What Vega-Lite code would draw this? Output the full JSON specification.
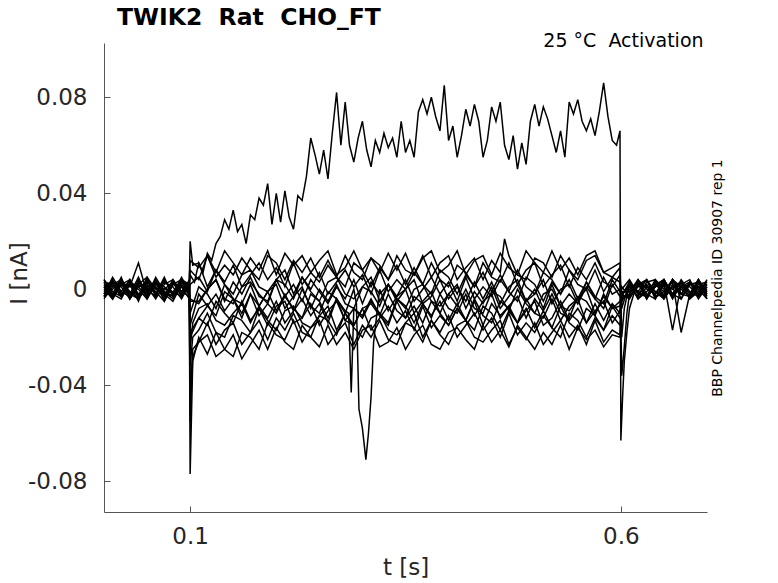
{
"$schema": "https://vega.github.io/schema/vega-lite/v6.json",
"autosize": {"type": "none"},
"width": 603,
"height": 469,
"padding": {"left": 104, "top": 43, "right": 71, "bottom": 71},
"background": "white",
"title": {"text": "TWIK2\u00a0 Rat\u00a0 CHO_FT", "anchor": "start", "frame": "group", "dx": 13, "dy": 24, "offset": 7, "baseline": "alphabetic", "fontSize": 23.5, "fontWeight": "bold", "font": "DejaVu Sans", "color": "black"},
"config": {
  "view": {"stroke": null},
  "locale": {"number": {"decimal": ".", "thousands": ",", "grouping": [3], "currency": ["$", ""], "minus": "-"}},
  "axis": {"grid": false, "domainColor": "#555555", "tickColor": "#555555", "labelColor": "#262626", "titleColor": "#262626", "labelFont": "DejaVu Sans", "titleFont": "DejaVu Sans", "labelFontSize": 23, "titleFontSize": 23, "titleFontWeight": "normal"}
},
"layer": [
{
"data": {"values": [
{"s":1,"t":0,"i":0.002},{"s":1,"t":0.01,"i":-0.003},{"s":1,"t":0.02,"i":0.004},{"s":1,"t":0.03,"i":-0.001},{"s":1,"t":0.04,"i":-0.004},{"s":1,"t":0.05,"i":0.003},{"s":1,"t":0.06,"i":0.001},{"s":1,"t":0.07,"i":-0.003},{"s":1,"t":0.08,"i":0.004},{"s":1,"t":0.09,"i":-0.002},{"s":1,"t":0.099,"i":0.001},
{"s":1,"t":0.1,"i":-0.077},{"s":1,"t":0.103,"i":-0.03},
{"s":1,"t":0.11,"i":-0.02},{"s":1,"t":0.12,"i":-0.027},{"s":1,"t":0.13,"i":-0.018},{"s":1,"t":0.14,"i":-0.025},{"s":1,"t":0.15,"i":-0.028},{"s":1,"t":0.16,"i":-0.018},{"s":1,"t":0.17,"i":-0.02},{"s":1,"t":0.18,"i":-0.025},{"s":1,"t":0.19,"i":-0.014},{"s":1,"t":0.2,"i":-0.019},
{"s":1,"t":0.21,"i":-0.021},{"s":1,"t":0.22,"i":-0.013},{"s":1,"t":0.23,"i":-0.022},{"s":1,"t":0.24,"i":-0.016},{"s":1,"t":0.25,"i":-0.013},{"s":1,"t":0.26,"i":-0.023},{"s":1,"t":0.27,"i":-0.018},{"s":1,"t":0.28,"i":-0.014},{"s":1,"t":0.29,"i":-0.023},{"s":1,"t":0.3,"i":-0.015},
{"s":1,"t":0.31,"i":-0.02},{"s":1,"t":0.32,"i":-0.013},{"s":1,"t":0.33,"i":-0.021},{"s":1,"t":0.34,"i":-0.023},{"s":1,"t":0.35,"i":-0.014},{"s":1,"t":0.36,"i":-0.016},{"s":1,"t":0.37,"i":-0.022},{"s":1,"t":0.38,"i":-0.013},{"s":1,"t":0.39,"i":-0.019},{"s":1,"t":0.4,"i":-0.023},
{"s":1,"t":0.41,"i":-0.015},{"s":1,"t":0.42,"i":-0.013},{"s":1,"t":0.43,"i":-0.02},{"s":1,"t":0.44,"i":-0.022},{"s":1,"t":0.45,"i":-0.017},{"s":1,"t":0.46,"i":-0.013},{"s":1,"t":0.47,"i":-0.023},{"s":1,"t":0.48,"i":-0.016},{"s":1,"t":0.49,"i":-0.021},{"s":1,"t":0.5,"i":-0.014},
{"s":1,"t":0.51,"i":-0.023},{"s":1,"t":0.52,"i":-0.018},{"s":1,"t":0.53,"i":-0.013},{"s":1,"t":0.54,"i":-0.02},{"s":1,"t":0.55,"i":-0.015},{"s":1,"t":0.56,"i":-0.023},{"s":1,"t":0.57,"i":-0.013},{"s":1,"t":0.58,"i":-0.022},{"s":1,"t":0.59,"i":-0.017},
{"s":1,"t":0.599,"i":-0.019},{"s":1,"t":0.601,"i":-0.004},
{"s":1,"t":0.61,"i":-0.002},{"s":1,"t":0.62,"i":0.003},{"s":1,"t":0.63,"i":-0.004},{"s":1,"t":0.64,"i":0.002},{"s":1,"t":0.65,"i":0.001},{"s":1,"t":0.66,"i":-0.003},{"s":1,"t":0.67,"i":0.004},{"s":1,"t":0.68,"i":-0.001},{"s":1,"t":0.69,"i":-0.003},{"s":1,"t":0.7,"i":0.002},

{"s":2,"t":0,"i":-0.003},{"s":2,"t":0.01,"i":0.003},{"s":2,"t":0.02,"i":-0.001},{"s":2,"t":0.03,"i":0.004},{"s":2,"t":0.04,"i":-0.004},{"s":2,"t":0.05,"i":0.002},{"s":2,"t":0.06,"i":-0.002},{"s":2,"t":0.07,"i":0.005},{"s":2,"t":0.08,"i":-0.003},{"s":2,"t":0.09,"i":0.001},{"s":2,"t":0.099,"i":-0.002},
{"s":2,"t":0.1,"i":-0.045},{"s":2,"t":0.103,"i":-0.025},
{"s":2,"t":0.11,"i":-0.022},{"s":2,"t":0.12,"i":-0.014},{"s":2,"t":0.13,"i":-0.023},{"s":2,"t":0.14,"i":-0.017},{"s":2,"t":0.15,"i":-0.014},{"s":2,"t":0.16,"i":-0.023},{"s":2,"t":0.17,"i":-0.018},{"s":2,"t":0.18,"i":-0.013},{"s":2,"t":0.19,"i":-0.021},{"s":2,"t":0.2,"i":-0.012},
{"s":2,"t":0.21,"i":-0.017},{"s":2,"t":0.22,"i":-0.01},{"s":2,"t":0.23,"i":-0.018},{"s":2,"t":0.24,"i":-0.02},{"s":2,"t":0.25,"i":-0.011},{"s":2,"t":0.26,"i":-0.013},{"s":2,"t":0.27,"i":-0.019},{"s":2,"t":0.28,"i":-0.01},{"s":2,"t":0.29,"i":-0.016},{"s":2,"t":0.3,"i":-0.02},
{"s":2,"t":0.31,"i":-0.012},{"s":2,"t":0.32,"i":-0.01},{"s":2,"t":0.33,"i":-0.017},{"s":2,"t":0.34,"i":-0.019},{"s":2,"t":0.35,"i":-0.014},{"s":2,"t":0.36,"i":-0.01},{"s":2,"t":0.37,"i":-0.02},{"s":2,"t":0.38,"i":-0.013},{"s":2,"t":0.39,"i":-0.018},{"s":2,"t":0.4,"i":-0.011},
{"s":2,"t":0.41,"i":-0.02},{"s":2,"t":0.42,"i":-0.015},{"s":2,"t":0.43,"i":-0.01},{"s":2,"t":0.44,"i":-0.017},{"s":2,"t":0.45,"i":-0.012},{"s":2,"t":0.46,"i":-0.02},{"s":2,"t":0.47,"i":-0.01},{"s":2,"t":0.48,"i":-0.019},{"s":2,"t":0.49,"i":-0.014},{"s":2,"t":0.5,"i":-0.018},
{"s":2,"t":0.51,"i":-0.011},{"s":2,"t":0.52,"i":-0.016},{"s":2,"t":0.53,"i":-0.02},{"s":2,"t":0.54,"i":-0.01},{"s":2,"t":0.55,"i":-0.013},{"s":2,"t":0.56,"i":-0.02},{"s":2,"t":0.57,"i":-0.012},{"s":2,"t":0.58,"i":-0.017},{"s":2,"t":0.59,"i":-0.011},
{"s":2,"t":0.599,"i":-0.015},{"s":2,"t":0.601,"i":-0.003},
{"s":2,"t":0.61,"i":0.003},{"s":2,"t":0.62,"i":-0.001},{"s":2,"t":0.63,"i":0.004},{"s":2,"t":0.64,"i":-0.003},{"s":2,"t":0.65,"i":-0.002},{"s":2,"t":0.66,"i":0.004},{"s":2,"t":0.67,"i":-0.004},{"s":2,"t":0.68,"i":0.002},{"s":2,"t":0.69,"i":0.001},{"s":2,"t":0.7,"i":-0.002},

{"s":3,"t":0,"i":0.004},{"s":3,"t":0.01,"i":-0.002},{"s":3,"t":0.02,"i":-0.004},{"s":3,"t":0.03,"i":0.003},{"s":3,"t":0.04,"i":0.001},{"s":3,"t":0.05,"i":-0.003},{"s":3,"t":0.06,"i":0.005},{"s":3,"t":0.07,"i":-0.001},{"s":3,"t":0.08,"i":-0.004},{"s":3,"t":0.09,"i":0.003},{"s":3,"t":0.099,"i":0},
{"s":3,"t":0.1,"i":-0.032},{"s":3,"t":0.103,"i":-0.02},
{"s":3,"t":0.11,"i":-0.017},{"s":3,"t":0.12,"i":-0.01},{"s":3,"t":0.13,"i":-0.018},{"s":3,"t":0.14,"i":-0.02},{"s":3,"t":0.15,"i":-0.011},{"s":3,"t":0.16,"i":-0.013},{"s":3,"t":0.17,"i":-0.018},{"s":3,"t":0.18,"i":-0.008},{"s":3,"t":0.19,"i":-0.013},{"s":3,"t":0.2,"i":-0.017},
{"s":3,"t":0.21,"i":-0.009},{"s":3,"t":0.22,"i":-0.007},{"s":3,"t":0.23,"i":-0.014},{"s":3,"t":0.24,"i":-0.016},{"s":3,"t":0.25,"i":-0.011},{"s":3,"t":0.26,"i":-0.007},{"s":3,"t":0.27,"i":-0.017},{"s":3,"t":0.28,"i":-0.01},{"s":3,"t":0.29,"i":-0.015},{"s":3,"t":0.3,"i":-0.008},
{"s":3,"t":0.31,"i":-0.017},{"s":3,"t":0.32,"i":-0.012},{"s":3,"t":0.33,"i":-0.007},{"s":3,"t":0.34,"i":-0.014},{"s":3,"t":0.35,"i":-0.009},{"s":3,"t":0.36,"i":-0.017},{"s":3,"t":0.37,"i":-0.007},{"s":3,"t":0.38,"i":-0.016},{"s":3,"t":0.39,"i":-0.011},{"s":3,"t":0.4,"i":-0.015},
{"s":3,"t":0.41,"i":-0.008},{"s":3,"t":0.42,"i":-0.013},{"s":3,"t":0.43,"i":-0.017},{"s":3,"t":0.44,"i":-0.007},{"s":3,"t":0.45,"i":-0.01},{"s":3,"t":0.46,"i":-0.017},{"s":3,"t":0.47,"i":-0.009},{"s":3,"t":0.48,"i":-0.014},{"s":3,"t":0.49,"i":-0.008},{"s":3,"t":0.5,"i":-0.016},
{"s":3,"t":0.51,"i":-0.009},{"s":3,"t":0.52,"i":-0.016},{"s":3,"t":0.53,"i":-0.007},{"s":3,"t":0.54,"i":-0.014},{"s":3,"t":0.55,"i":-0.017},{"s":3,"t":0.56,"i":-0.008},{"s":3,"t":0.57,"i":-0.011},{"s":3,"t":0.58,"i":-0.017},{"s":3,"t":0.59,"i":-0.007},
{"s":3,"t":0.599,"i":-0.012},{"s":3,"t":0.601,"i":-0.002},
{"s":3,"t":0.61,"i":-0.004},{"s":3,"t":0.62,"i":0.002},{"s":3,"t":0.63,"i":0.001},{"s":3,"t":0.64,"i":-0.002},{"s":3,"t":0.65,"i":0.004},{"s":3,"t":0.66,"i":-0.003},{"s":3,"t":0.67,"i":0.001},{"s":3,"t":0.68,"i":0.003},{"s":3,"t":0.69,"i":-0.004},{"s":3,"t":0.7,"i":0.001},

{"s":4,"t":0,"i":-0.001},{"s":4,"t":0.01,"i":0.004},{"s":4,"t":0.02,"i":-0.003},{"s":4,"t":0.03,"i":0.002},{"s":4,"t":0.04,"i":-0.005},{"s":4,"t":0.05,"i":0.004},{"s":4,"t":0.06,"i":-0.002},{"s":4,"t":0.07,"i":0.003},{"s":4,"t":0.08,"i":0.001},{"s":4,"t":0.09,"i":-0.004},{"s":4,"t":0.099,"i":0.002},
{"s":4,"t":0.1,"i":-0.025},{"s":4,"t":0.103,"i":-0.014},
{"s":4,"t":0.11,"i":-0.008},{"s":4,"t":0.12,"i":-0.006},{"s":4,"t":0.13,"i":-0.013},{"s":4,"t":0.14,"i":-0.015},{"s":4,"t":0.15,"i":-0.01},{"s":4,"t":0.16,"i":-0.006},{"s":4,"t":0.17,"i":-0.014},{"s":4,"t":0.18,"i":-0.007},{"s":4,"t":0.19,"i":-0.012},{"s":4,"t":0.2,"i":-0.005},
{"s":4,"t":0.21,"i":-0.014},{"s":4,"t":0.22,"i":-0.009},{"s":4,"t":0.23,"i":-0.004},{"s":4,"t":0.24,"i":-0.011},{"s":4,"t":0.25,"i":-0.006},{"s":4,"t":0.26,"i":-0.014},{"s":4,"t":0.27,"i":-0.004},{"s":4,"t":0.28,"i":-0.013},{"s":4,"t":0.29,"i":-0.008},{"s":4,"t":0.3,"i":-0.012},
{"s":4,"t":0.31,"i":-0.005},{"s":4,"t":0.32,"i":-0.01},{"s":4,"t":0.33,"i":-0.014},{"s":4,"t":0.34,"i":-0.004},{"s":4,"t":0.35,"i":-0.007},{"s":4,"t":0.36,"i":-0.014},{"s":4,"t":0.37,"i":-0.006},{"s":4,"t":0.38,"i":-0.011},{"s":4,"t":0.39,"i":-0.005},{"s":4,"t":0.4,"i":-0.013},
{"s":4,"t":0.41,"i":-0.006},{"s":4,"t":0.42,"i":-0.013},{"s":4,"t":0.43,"i":-0.004},{"s":4,"t":0.44,"i":-0.011},{"s":4,"t":0.45,"i":-0.014},{"s":4,"t":0.46,"i":-0.005},{"s":4,"t":0.47,"i":-0.008},{"s":4,"t":0.48,"i":-0.014},{"s":4,"t":0.49,"i":-0.004},{"s":4,"t":0.5,"i":-0.01},
{"s":4,"t":0.51,"i":-0.012},{"s":4,"t":0.52,"i":-0.004},{"s":4,"t":0.53,"i":-0.013},{"s":4,"t":0.54,"i":-0.007},{"s":4,"t":0.55,"i":-0.004},{"s":4,"t":0.56,"i":-0.014},{"s":4,"t":0.57,"i":-0.009},{"s":4,"t":0.58,"i":-0.005},{"s":4,"t":0.59,"i":-0.014},
{"s":4,"t":0.599,"i":-0.009},{"s":4,"t":0.601,"i":-0.002},
{"s":4,"t":0.61,"i":0.001},{"s":4,"t":0.62,"i":-0.003},{"s":4,"t":0.63,"i":0.003},{"s":4,"t":0.64,"i":0.004},{"s":4,"t":0.65,"i":-0.004},{"s":4,"t":0.66,"i":0.002},{"s":4,"t":0.67,"i":-0.002},{"s":4,"t":0.68,"i":-0.003},{"s":4,"t":0.69,"i":0.003},{"s":4,"t":0.7,"i":-0.001},

{"s":5,"t":0,"i":0.003},{"s":5,"t":0.01,"i":-0.004},{"s":5,"t":0.02,"i":0.002},{"s":5,"t":0.03,"i":-0.002},{"s":5,"t":0.04,"i":0.005},{"s":5,"t":0.05,"i":-0.003},{"s":5,"t":0.06,"i":0.001},{"s":5,"t":0.07,"i":-0.004},{"s":5,"t":0.08,"i":0.003},{"s":5,"t":0.09,"i":-0.001},{"s":5,"t":0.099,"i":-0.003},
{"s":5,"t":0.1,"i":-0.018},
{"s":5,"t":0.11,"i":-0.012},{"s":5,"t":0.12,"i":-0.007},{"s":5,"t":0.13,"i":-0.002},{"s":5,"t":0.14,"i":-0.009},{"s":5,"t":0.15,"i":-0.004},{"s":5,"t":0.16,"i":-0.012},{"s":5,"t":0.17,"i":-0.002},{"s":5,"t":0.18,"i":-0.011},{"s":5,"t":0.19,"i":-0.006},{"s":5,"t":0.2,"i":-0.01},
{"s":5,"t":0.21,"i":-0.003},{"s":5,"t":0.22,"i":-0.008},{"s":5,"t":0.23,"i":-0.012},{"s":5,"t":0.24,"i":-0.002},{"s":5,"t":0.25,"i":-0.005},{"s":5,"t":0.26,"i":-0.012},{"s":5,"t":0.27,"i":-0.004},{"s":5,"t":0.28,"i":-0.009},
{"s":5,"t":0.284,"i":-0.01},{"s":5,"t":0.287,"i":-0.043},{"s":5,"t":0.29,"i":-0.008},
{"s":5,"t":0.3,"i":-0.011},{"s":5,"t":0.31,"i":-0.004},{"s":5,"t":0.32,"i":-0.011},{"s":5,"t":0.33,"i":-0.002},{"s":5,"t":0.34,"i":-0.009},{"s":5,"t":0.35,"i":-0.012},{"s":5,"t":0.36,"i":-0.003},{"s":5,"t":0.37,"i":-0.006},{"s":5,"t":0.38,"i":-0.012},{"s":5,"t":0.39,"i":-0.002},
{"s":5,"t":0.4,"i":-0.008},{"s":5,"t":0.41,"i":-0.01},{"s":5,"t":0.42,"i":-0.002},{"s":5,"t":0.43,"i":-0.011},{"s":5,"t":0.44,"i":-0.005},{"s":5,"t":0.45,"i":-0.002},{"s":5,"t":0.46,"i":-0.012},{"s":5,"t":0.47,"i":-0.007},{"s":5,"t":0.48,"i":-0.003},{"s":5,"t":0.49,"i":-0.012},
{"s":5,"t":0.5,"i":-0.004},{"s":5,"t":0.51,"i":-0.009},{"s":5,"t":0.52,"i":-0.002},{"s":5,"t":0.53,"i":-0.01},{"s":5,"t":0.54,"i":-0.012},{"s":5,"t":0.55,"i":-0.003},{"s":5,"t":0.56,"i":-0.005},{"s":5,"t":0.57,"i":-0.011},{"s":5,"t":0.58,"i":-0.002},{"s":5,"t":0.59,"i":-0.008},
{"s":5,"t":0.599,"i":-0.007},{"s":5,"t":0.601,"i":-0.001},
{"s":5,"t":0.61,"i":-0.001},{"s":5,"t":0.62,"i":0.004},{"s":5,"t":0.63,"i":-0.002},{"s":5,"t":0.64,"i":-0.004},{"s":5,"t":0.65,"i":0.003},{"s":5,"t":0.66,"i":-0.017},{"s":5,"t":0.67,"i":0.002},{"s":5,"t":0.68,"i":0.001},{"s":5,"t":0.69,"i":-0.002},{"s":5,"t":0.7,"i":0.004},

{"s":6,"t":0,"i":-0.004},{"s":6,"t":0.01,"i":0.001},{"s":6,"t":0.02,"i":0.003},{"s":6,"t":0.03,"i":-0.003},{"s":6,"t":0.04,"i":0.002},{"s":6,"t":0.05,"i":-0.001},{"s":6,"t":0.06,"i":0.004},{"s":6,"t":0.07,"i":-0.003},{"s":6,"t":0.08,"i":-0.002},{"s":6,"t":0.09,"i":0.004},{"s":6,"t":0.099,"i":0.001},
{"s":6,"t":0.1,"i":-0.015},
{"s":6,"t":0.11,"i":-0.002},{"s":6,"t":0.12,"i":-0.007},{"s":6,"t":0.13,"i":-0.011},{"s":6,"t":0.14,"i":-0.001},{"s":6,"t":0.15,"i":-0.004},{"s":6,"t":0.16,"i":-0.01},{"s":6,"t":0.17,"i":-0.002},{"s":6,"t":0.18,"i":-0.007},{"s":6,"t":0.19,"i":-0.001},{"s":6,"t":0.2,"i":-0.009},
{"s":6,"t":0.21,"i":-0.002},{"s":6,"t":0.22,"i":-0.009},{"s":6,"t":0.23,"i":0},{"s":6,"t":0.24,"i":-0.007},{"s":6,"t":0.25,"i":-0.01},{"s":6,"t":0.26,"i":-0.001},{"s":6,"t":0.27,"i":-0.004},{"s":6,"t":0.28,"i":-0.01},{"s":6,"t":0.29,"i":0},
{"s":6,"t":0.293,"i":-0.006},{"s":6,"t":0.296,"i":-0.05},{"s":6,"t":0.3,"i":-0.058},{"s":6,"t":0.304,"i":-0.071},{"s":6,"t":0.307,"i":-0.06},{"s":6,"t":0.31,"i":-0.045},{"s":6,"t":0.313,"i":-0.022},
{"s":6,"t":0.32,"i":0},{"s":6,"t":0.33,"i":-0.009},{"s":6,"t":0.34,"i":-0.003},{"s":6,"t":0.35,"i":0},{"s":6,"t":0.36,"i":-0.01},{"s":6,"t":0.37,"i":-0.005},{"s":6,"t":0.38,"i":-0.001},{"s":6,"t":0.39,"i":-0.01},{"s":6,"t":0.4,"i":-0.002},
{"s":6,"t":0.41,"i":-0.007},{"s":6,"t":0.42,"i":0},{"s":6,"t":0.43,"i":-0.008},{"s":6,"t":0.44,"i":-0.01},{"s":6,"t":0.45,"i":-0.001},{"s":6,"t":0.46,"i":-0.003},{"s":6,"t":0.47,"i":-0.009},{"s":6,"t":0.48,"i":0},{"s":6,"t":0.49,"i":-0.006},{"s":6,"t":0.5,"i":-0.01},
{"s":6,"t":0.51,"i":-0.002},{"s":6,"t":0.52,"i":0},{"s":6,"t":0.53,"i":-0.007},{"s":6,"t":0.54,"i":-0.009},{"s":6,"t":0.55,"i":-0.004},{"s":6,"t":0.56,"i":0},{"s":6,"t":0.57,"i":-0.01},{"s":6,"t":0.58,"i":-0.003},{"s":6,"t":0.59,"i":-0.008},
{"s":6,"t":0.599,"i":-0.005},{"s":6,"t":0.601,"i":0},
{"s":6,"t":0.61,"i":0.004},{"s":6,"t":0.62,"i":-0.002},{"s":6,"t":0.63,"i":-0.003},{"s":6,"t":0.64,"i":0.002},{"s":6,"t":0.65,"i":-0.001},{"s":6,"t":0.66,"i":0.003},{"s":6,"t":0.67,"i":-0.018},{"s":6,"t":0.68,"i":-0.002},{"s":6,"t":0.69,"i":0.004},{"s":6,"t":0.7,"i":-0.003},

{"s":7,"t":0,"i":0.001},{"s":7,"t":0.01,"i":-0.002},{"s":7,"t":0.02,"i":0.005},{"s":7,"t":0.03,"i":-0.004},{"s":7,"t":0.04,"i":0.003},{"s":7,"t":0.05,"i":0},{"s":7,"t":0.06,"i":-0.003},{"s":7,"t":0.07,"i":0.004},{"s":7,"t":0.08,"i":-0.002},{"s":7,"t":0.09,"i":0.002},{"s":7,"t":0.099,"i":-0.001},
{"s":7,"t":0.1,"i":-0.01},
{"s":7,"t":0.11,"i":0.001},{"s":7,"t":0.12,"i":-0.002},{"s":7,"t":0.13,"i":-0.008},{"s":7,"t":0.14,"i":0.002},{"s":7,"t":0.15,"i":-0.004},{"s":7,"t":0.16,"i":-0.006},{"s":7,"t":0.17,"i":0.002},{"s":7,"t":0.18,"i":-0.007},{"s":7,"t":0.19,"i":-0.001},{"s":7,"t":0.2,"i":0.002},
{"s":7,"t":0.21,"i":-0.008},{"s":7,"t":0.22,"i":-0.003},{"s":7,"t":0.23,"i":0.001},{"s":7,"t":0.24,"i":-0.008},{"s":7,"t":0.25,"i":0},{"s":7,"t":0.26,"i":-0.005},{"s":7,"t":0.27,"i":0.002},{"s":7,"t":0.28,"i":-0.006},{"s":7,"t":0.29,"i":-0.008},{"s":7,"t":0.3,"i":0.001},
{"s":7,"t":0.31,"i":-0.001},{"s":7,"t":0.32,"i":-0.007},{"s":7,"t":0.33,"i":0.002},{"s":7,"t":0.34,"i":-0.004},{"s":7,"t":0.35,"i":-0.008},{"s":7,"t":0.36,"i":0},{"s":7,"t":0.37,"i":0.002},{"s":7,"t":0.38,"i":-0.005},{"s":7,"t":0.39,"i":-0.007},{"s":7,"t":0.4,"i":-0.002},
{"s":7,"t":0.41,"i":0.002},{"s":7,"t":0.42,"i":-0.008},{"s":7,"t":0.43,"i":-0.001},{"s":7,"t":0.44,"i":-0.006},{"s":7,"t":0.45,"i":0.001},{"s":7,"t":0.46,"i":-0.008},{"s":7,"t":0.47,"i":-0.003},{"s":7,"t":0.48,"i":0.002},{"s":7,"t":0.49,"i":-0.005},{"s":7,"t":0.5,"i":0},
{"s":7,"t":0.51,"i":-0.008},{"s":7,"t":0.52,"i":0.002},{"s":7,"t":0.53,"i":-0.007},{"s":7,"t":0.54,"i":-0.002},{"s":7,"t":0.55,"i":-0.006},{"s":7,"t":0.56,"i":0.001},{"s":7,"t":0.57,"i":-0.004},{"s":7,"t":0.58,"i":-0.008},{"s":7,"t":0.59,"i":0.002},
{"s":7,"t":0.599,"i":-0.003},{"s":7,"t":0.601,"i":0.001},
{"s":7,"t":0.61,"i":-0.003},{"s":7,"t":0.62,"i":0.001},{"s":7,"t":0.63,"i":0.004},{"s":7,"t":0.64,"i":-0.004},{"s":7,"t":0.65,"i":0.002},{"s":7,"t":0.66,"i":0},{"s":7,"t":0.67,"i":0.003},{"s":7,"t":0.68,"i":-0.004},{"s":7,"t":0.69,"i":-0.001},{"s":7,"t":0.7,"i":0.003},

{"s":8,"t":0,"i":-0.002},{"s":8,"t":0.01,"i":0.005},{"s":8,"t":0.02,"i":-0.001},{"s":8,"t":0.03,"i":-0.003},{"s":8,"t":0.04,"i":0.004},{"s":8,"t":0.05,"i":-0.004},{"s":8,"t":0.06,"i":0.002},{"s":8,"t":0.07,"i":0},{"s":8,"t":0.08,"i":0.003},{"s":8,"t":0.09,"i":-0.003},{"s":8,"t":0.099,"i":0.003},
{"s":8,"t":0.1,"i":-0.005},
{"s":8,"t":0.11,"i":-0.005},{"s":8,"t":0.12,"i":0},{"s":8,"t":0.13,"i":0.004},{"s":8,"t":0.14,"i":-0.005},{"s":8,"t":0.15,"i":0.003},{"s":8,"t":0.16,"i":-0.002},{"s":8,"t":0.17,"i":0.005},{"s":8,"t":0.18,"i":-0.003},{"s":8,"t":0.19,"i":-0.005},{"s":8,"t":0.2,"i":0.004},
{"s":8,"t":0.21,"i":0.002},{"s":8,"t":0.22,"i":-0.004},{"s":8,"t":0.23,"i":0.005},{"s":8,"t":0.24,"i":-0.001},{"s":8,"t":0.25,"i":-0.005},{"s":8,"t":0.26,"i":0.003},{"s":8,"t":0.27,"i":0.005},{"s":8,"t":0.28,"i":-0.002},{"s":8,"t":0.29,"i":-0.004},{"s":8,"t":0.3,"i":0.001},
{"s":8,"t":0.31,"i":0.005},{"s":8,"t":0.32,"i":-0.005},{"s":8,"t":0.33,"i":0.002},{"s":8,"t":0.34,"i":-0.003},{"s":8,"t":0.35,"i":0.004},{"s":8,"t":0.36,"i":-0.005},{"s":8,"t":0.37,"i":0},{"s":8,"t":0.38,"i":0.005},{"s":8,"t":0.39,"i":-0.002},{"s":8,"t":0.4,"i":0.003},
{"s":8,"t":0.41,"i":-0.005},{"s":8,"t":0.42,"i":0.005},{"s":8,"t":0.43,"i":-0.004},{"s":8,"t":0.44,"i":0.001},{"s":8,"t":0.45,"i":-0.003},{"s":8,"t":0.46,"i":0.004},{"s":8,"t":0.47,"i":-0.001},{"s":8,"t":0.48,"i":-0.005},{"s":8,"t":0.49,"i":0.005},{"s":8,"t":0.5,"i":0.002},
{"s":8,"t":0.51,"i":-0.005},{"s":8,"t":0.52,"i":0.003},{"s":8,"t":0.53,"i":-0.002},{"s":8,"t":0.54,"i":0.004},{"s":8,"t":0.55,"i":-0.004},{"s":8,"t":0.56,"i":0.003},{"s":8,"t":0.57,"i":-0.004},{"s":8,"t":0.58,"i":0.005},{"s":8,"t":0.59,"i":-0.002},
{"s":8,"t":0.599,"i":0},{"s":8,"t":0.601,"i":-0.002},
{"s":8,"t":0.61,"i":0.002},{"s":8,"t":0.62,"i":-0.004},{"s":8,"t":0.63,"i":-0.001},{"s":8,"t":0.64,"i":0.003},{"s":8,"t":0.65,"i":-0.003},{"s":8,"t":0.66,"i":0.004},{"s":8,"t":0.67,"i":-0.002},{"s":8,"t":0.68,"i":0.002},{"s":8,"t":0.69,"i":0.003},{"s":8,"t":0.7,"i":-0.004},

{"s":9,"t":0,"i":0},{"s":9,"t":0.01,"i":-0.004},{"s":9,"t":0.02,"i":0.003},{"s":9,"t":0.03,"i":0.001},{"s":9,"t":0.04,"i":0.011},{"s":9,"t":0.05,"i":-0.002},{"s":9,"t":0.06,"i":0.003},{"s":9,"t":0.07,"i":-0.002},{"s":9,"t":0.08,"i":-0.005},{"s":9,"t":0.09,"i":0.002},{"s":9,"t":0.099,"i":-0.002},
{"s":9,"t":0.1,"i":0.002},
{"s":9,"t":0.11,"i":0.005},{"s":9,"t":0.12,"i":-0.001},{"s":9,"t":0.13,"i":0.008},{"s":9,"t":0.14,"i":0.002},{"s":9,"t":0.15,"i":-0.002},{"s":9,"t":0.16,"i":0.006},{"s":9,"t":0.17,"i":0.008},{"s":9,"t":0.18,"i":0.001},{"s":9,"t":0.19,"i":-0.001},{"s":9,"t":0.2,"i":0.004},
{"s":9,"t":0.21,"i":0.008},{"s":9,"t":0.22,"i":-0.002},{"s":9,"t":0.23,"i":0.005},{"s":9,"t":0.24,"i":0},{"s":9,"t":0.25,"i":0.007},{"s":9,"t":0.26,"i":-0.002},{"s":9,"t":0.27,"i":0.003},{"s":9,"t":0.28,"i":0.008},{"s":9,"t":0.29,"i":0.001},{"s":9,"t":0.3,"i":0.006},
{"s":9,"t":0.31,"i":-0.002},{"s":9,"t":0.32,"i":0.008},{"s":9,"t":0.33,"i":-0.001},{"s":9,"t":0.34,"i":0.004},{"s":9,"t":0.35,"i":0},{"s":9,"t":0.36,"i":0.007},{"s":9,"t":0.37,"i":0.002},{"s":9,"t":0.38,"i":-0.002},{"s":9,"t":0.39,"i":0.008},{"s":9,"t":0.4,"i":0.005},
{"s":9,"t":0.41,"i":-0.002},{"s":9,"t":0.42,"i":0.006},{"s":9,"t":0.43,"i":0.001},{"s":9,"t":0.44,"i":0.007},{"s":9,"t":0.45,"i":-0.001},{"s":9,"t":0.46,"i":0.006},{"s":9,"t":0.47,"i":-0.001},{"s":9,"t":0.48,"i":0.008},{"s":9,"t":0.49,"i":0.001},{"s":9,"t":0.5,"i":-0.002},
{"s":9,"t":0.51,"i":0.007},{"s":9,"t":0.52,"i":0.004},{"s":9,"t":0.53,"i":-0.002},{"s":9,"t":0.54,"i":0.008},{"s":9,"t":0.55,"i":0.002},{"s":9,"t":0.56,"i":0},{"s":9,"t":0.57,"i":0.008},{"s":9,"t":0.58,"i":-0.001},{"s":9,"t":0.59,"i":0.005},
{"s":9,"t":0.599,"i":0.003},{"s":9,"t":0.601,"i":-0.005},
{"s":9,"t":0.61,"i":0},{"s":9,"t":0.62,"i":0.003},{"s":9,"t":0.63,"i":-0.003},{"s":9,"t":0.64,"i":0.001},{"s":9,"t":0.65,"i":0.004},{"s":9,"t":0.66,"i":-0.002},{"s":9,"t":0.67,"i":-0.004},{"s":9,"t":0.68,"i":0.003},{"s":9,"t":0.69,"i":-0.002},{"s":9,"t":0.7,"i":0.001},

{"s":10,"t":0,"i":0.003},{"s":10,"t":0.01,"i":0.002},{"s":10,"t":0.02,"i":-0.003},{"s":10,"t":0.03,"i":0.004},{"s":10,"t":0.04,"i":-0.002},{"s":10,"t":0.05,"i":0.001},{"s":10,"t":0.06,"i":-0.004},{"s":10,"t":0.07,"i":0.002},{"s":10,"t":0.08,"i":0.004},{"s":10,"t":0.09,"i":-0.001},{"s":10,"t":0.099,"i":0.003},
{"s":10,"t":0.1,"i":0.02},{"s":10,"t":0.103,"i":0.01},
{"s":10,"t":0.11,"i":0.011},{"s":10,"t":0.12,"i":0.001},{"s":10,"t":0.13,"i":0.008},{"s":10,"t":0.14,"i":0.003},{"s":10,"t":0.15,"i":0.01},{"s":10,"t":0.16,"i":0.001},{"s":10,"t":0.17,"i":0.006},{"s":10,"t":0.18,"i":0.011},{"s":10,"t":0.19,"i":0.004},{"s":10,"t":0.2,"i":0.009},
{"s":10,"t":0.21,"i":0.001},{"s":10,"t":0.22,"i":0.011},{"s":10,"t":0.23,"i":0.002},{"s":10,"t":0.24,"i":0.007},{"s":10,"t":0.25,"i":0.003},{"s":10,"t":0.26,"i":0.01},{"s":10,"t":0.27,"i":0.005},{"s":10,"t":0.28,"i":0.001},{"s":10,"t":0.29,"i":0.011},{"s":10,"t":0.3,"i":0.008},
{"s":10,"t":0.31,"i":0.001},{"s":10,"t":0.32,"i":0.009},{"s":10,"t":0.33,"i":0.004},{"s":10,"t":0.34,"i":0.01},{"s":10,"t":0.35,"i":0.002},{"s":10,"t":0.36,"i":0.009},{"s":10,"t":0.37,"i":0.002},{"s":10,"t":0.38,"i":0.011},{"s":10,"t":0.39,"i":0.004},{"s":10,"t":0.4,"i":0.001},
{"s":10,"t":0.41,"i":0.01},{"s":10,"t":0.42,"i":0.007},{"s":10,"t":0.43,"i":0.001},{"s":10,"t":0.44,"i":0.011},{"s":10,"t":0.45,"i":0.005},{"s":10,"t":0.46,"i":0.003},{"s":10,"t":0.47,"i":0.011},{"s":10,"t":0.48,"i":0.002},{"s":10,"t":0.49,"i":0.008},{"s":10,"t":0.5,"i":0.011},
{"s":10,"t":0.51,"i":0.001},{"s":10,"t":0.52,"i":0.006},{"s":10,"t":0.53,"i":0.01},{"s":10,"t":0.54,"i":0.001},{"s":10,"t":0.55,"i":0.009},{"s":10,"t":0.56,"i":0.004},{"s":10,"t":0.57,"i":0.011},{"s":10,"t":0.58,"i":0.003},{"s":10,"t":0.59,"i":0.001},
{"s":10,"t":0.599,"i":0.006},{"s":10,"t":0.601,"i":-0.008},
{"s":10,"t":0.61,"i":0.003},{"s":10,"t":0.62,"i":-0.002},{"s":10,"t":0.63,"i":0.002},{"s":10,"t":0.64,"i":-0.003},{"s":10,"t":0.65,"i":-0.001},{"s":10,"t":0.66,"i":0.004},{"s":10,"t":0.67,"i":0.001},{"s":10,"t":0.68,"i":-0.003},{"s":10,"t":0.69,"i":0.004},{"s":10,"t":0.7,"i":-0.002},

{"s":11,"t":0,"i":-0.003},{"s":11,"t":0.01,"i":0},{"s":11,"t":0.02,"i":0.004},{"s":11,"t":0.03,"i":-0.004},{"s":11,"t":0.04,"i":0.001},{"s":11,"t":0.05,"i":0.003},{"s":11,"t":0.06,"i":-0.001},{"s":11,"t":0.07,"i":-0.005},{"s":11,"t":0.08,"i":0.002},{"s":11,"t":0.09,"i":0.004},{"s":11,"t":0.099,"i":-0.003},
{"s":11,"t":0.1,"i":0.008},
{"s":11,"t":0.11,"i":0.004},{"s":11,"t":0.12,"i":0.014},{"s":11,"t":0.13,"i":0.005},{"s":11,"t":0.14,"i":0.01},{"s":11,"t":0.15,"i":0.006},{"s":11,"t":0.16,"i":0.013},{"s":11,"t":0.17,"i":0.008},{"s":11,"t":0.18,"i":0.004},{"s":11,"t":0.19,"i":0.014},{"s":11,"t":0.2,"i":0.011},
{"s":11,"t":0.21,"i":0.004},{"s":11,"t":0.22,"i":0.012},{"s":11,"t":0.23,"i":0.007},{"s":11,"t":0.24,"i":0.013},{"s":11,"t":0.25,"i":0.005},{"s":11,"t":0.26,"i":0.012},{"s":11,"t":0.27,"i":0.005},{"s":11,"t":0.28,"i":0.014},{"s":11,"t":0.29,"i":0.007},{"s":11,"t":0.3,"i":0.004},
{"s":11,"t":0.31,"i":0.013},{"s":11,"t":0.32,"i":0.01},{"s":11,"t":0.33,"i":0.004},{"s":11,"t":0.34,"i":0.014},{"s":11,"t":0.35,"i":0.008},{"s":11,"t":0.36,"i":0.006},{"s":11,"t":0.37,"i":0.014},{"s":11,"t":0.38,"i":0.005},{"s":11,"t":0.39,"i":0.011},{"s":11,"t":0.4,"i":0.014},
{"s":11,"t":0.41,"i":0.004},{"s":11,"t":0.42,"i":0.009},{"s":11,"t":0.43,"i":0.013},{"s":11,"t":0.44,"i":0.004},{"s":11,"t":0.45,"i":0.012},{"s":11,"t":0.46,"i":0.007},{"s":11,"t":0.465,"i":0.021},
{"s":11,"t":0.47,"i":0.014},{"s":11,"t":0.48,"i":0.006},{"s":11,"t":0.49,"i":0.004},{"s":11,"t":0.5,"i":0.013},{"s":11,"t":0.51,"i":0.011},{"s":11,"t":0.52,"i":0.005},{"s":11,"t":0.53,"i":0.014},{"s":11,"t":0.54,"i":0.008},{"s":11,"t":0.55,"i":0.004},{"s":11,"t":0.56,"i":0.012},{"s":11,"t":0.57,"i":0.014},{"s":11,"t":0.58,"i":0.007},{"s":11,"t":0.59,"i":0.005},
{"s":11,"t":0.599,"i":0.009},{"s":11,"t":0.601,"i":-0.036},{"s":11,"t":0.604,"i":-0.024},{"s":11,"t":0.607,"i":-0.01},
{"s":11,"t":0.61,"i":-0.002},{"s":11,"t":0.62,"i":0.004},{"s":11,"t":0.63,"i":0},{"s":11,"t":0.64,"i":-0.002},{"s":11,"t":0.65,"i":0.003},{"s":11,"t":0.66,"i":-0.004},{"s":11,"t":0.67,"i":0.002},{"s":11,"t":0.68,"i":0.004},{"s":11,"t":0.69,"i":-0.003},{"s":11,"t":0.7,"i":0},

{"s":13,"t":0,"i":0.001},{"s":13,"t":0.01,"i":-0.004},{"s":13,"t":0.02,"i":0.002},{"s":13,"t":0.03,"i":0.004},{"s":13,"t":0.04,"i":-0.003},{"s":13,"t":0.05,"i":0},{"s":13,"t":0.06,"i":0.003},{"s":13,"t":0.07,"i":-0.005},{"s":13,"t":0.08,"i":0.002},{"s":13,"t":0.09,"i":0.001},{"s":13,"t":0.099,"i":-0.004},
{"s":13,"t":0.1,"i":-0.055},{"s":13,"t":0.103,"i":-0.028},
{"s":13,"t":0.11,"i":-0.022},{"s":13,"t":0.12,"i":-0.019},{"s":13,"t":0.13,"i":-0.028},{"s":13,"t":0.14,"i":-0.025},{"s":13,"t":0.15,"i":-0.019},{"s":13,"t":0.16,"i":-0.029},{"s":13,"t":0.17,"i":-0.023},{"s":13,"t":0.18,"i":-0.017},{"s":13,"t":0.19,"i":-0.025},{"s":13,"t":0.2,"i":-0.016},
{"s":13,"t":0.21,"i":-0.022},{"s":13,"t":0.22,"i":-0.025},{"s":13,"t":0.23,"i":-0.015},{"s":13,"t":0.24,"i":-0.02},{"s":13,"t":0.25,"i":-0.024},{"s":13,"t":0.26,"i":-0.015},{"s":13,"t":0.27,"i":-0.023},{"s":13,"t":0.28,"i":-0.018},{"s":13,"t":0.29,"i":-0.025},{"s":13,"t":0.3,"i":-0.017},
{"s":13,"t":0.31,"i":-0.015},{"s":13,"t":0.32,"i":-0.024},{"s":13,"t":0.33,"i":-0.022},{"s":13,"t":0.34,"i":-0.016},{"s":13,"t":0.35,"i":-0.025},{"s":13,"t":0.36,"i":-0.019},{"s":13,"t":0.37,"i":-0.015},{"s":13,"t":0.38,"i":-0.023},{"s":13,"t":0.39,"i":-0.025},{"s":13,"t":0.4,"i":-0.018},
{"s":13,"t":0.41,"i":-0.016},{"s":13,"t":0.42,"i":-0.021},{"s":13,"t":0.43,"i":-0.025},{"s":13,"t":0.44,"i":-0.015},{"s":13,"t":0.45,"i":-0.022},{"s":13,"t":0.46,"i":-0.017},{"s":13,"t":0.47,"i":-0.024},{"s":13,"t":0.48,"i":-0.015},{"s":13,"t":0.49,"i":-0.02},{"s":13,"t":0.5,"i":-0.025},
{"s":13,"t":0.51,"i":-0.018},{"s":13,"t":0.52,"i":-0.023},{"s":13,"t":0.53,"i":-0.015},{"s":13,"t":0.54,"i":-0.025},{"s":13,"t":0.55,"i":-0.016},{"s":13,"t":0.56,"i":-0.021},{"s":13,"t":0.57,"i":-0.017},{"s":13,"t":0.58,"i":-0.024},{"s":13,"t":0.59,"i":-0.019},
{"s":13,"t":0.599,"i":-0.02},{"s":13,"t":0.601,"i":-0.003},
{"s":13,"t":0.61,"i":0.003},{"s":13,"t":0.62,"i":-0.004},{"s":13,"t":0.63,"i":0.001},{"s":13,"t":0.64,"i":-0.001},{"s":13,"t":0.65,"i":-0.003},{"s":13,"t":0.66,"i":0.004},{"s":13,"t":0.67,"i":-0.002},{"s":13,"t":0.68,"i":0.003},{"s":13,"t":0.69,"i":0},{"s":13,"t":0.7,"i":-0.004},

{"s":14,"t":0,"i":-0.003},{"s":14,"t":0.01,"i":0.002},{"s":14,"t":0.02,"i":0.004},{"s":14,"t":0.03,"i":-0.002},{"s":14,"t":0.04,"i":-0.004},{"s":14,"t":0.05,"i":0.001},{"s":14,"t":0.06,"i":0.003},{"s":14,"t":0.07,"i":-0.001},{"s":14,"t":0.08,"i":-0.003},{"s":14,"t":0.09,"i":0.004},{"s":14,"t":0.099,"i":0.002},
{"s":14,"t":0.1,"i":-0.02},
{"s":14,"t":0.11,"i":-0.012},{"s":14,"t":0.12,"i":-0.015},{"s":14,"t":0.13,"i":-0.005},{"s":14,"t":0.14,"i":-0.01},{"s":14,"t":0.15,"i":-0.014},{"s":14,"t":0.16,"i":-0.005},{"s":14,"t":0.17,"i":-0.013},{"s":14,"t":0.18,"i":-0.008},{"s":14,"t":0.19,"i":-0.015},{"s":14,"t":0.2,"i":-0.007},
{"s":14,"t":0.21,"i":-0.005},{"s":14,"t":0.22,"i":-0.014},{"s":14,"t":0.23,"i":-0.012},{"s":14,"t":0.24,"i":-0.006},{"s":14,"t":0.25,"i":-0.015},{"s":14,"t":0.26,"i":-0.009},{"s":14,"t":0.27,"i":-0.005},{"s":14,"t":0.28,"i":-0.013},{"s":14,"t":0.29,"i":-0.015},{"s":14,"t":0.3,"i":-0.008},
{"s":14,"t":0.31,"i":-0.006},{"s":14,"t":0.32,"i":-0.011},{"s":14,"t":0.33,"i":-0.015},{"s":14,"t":0.34,"i":-0.005},{"s":14,"t":0.35,"i":-0.012},{"s":14,"t":0.36,"i":-0.007},{"s":14,"t":0.37,"i":-0.014},{"s":14,"t":0.38,"i":-0.005},{"s":14,"t":0.39,"i":-0.01},{"s":14,"t":0.4,"i":-0.015},
{"s":14,"t":0.41,"i":-0.008},{"s":14,"t":0.42,"i":-0.013},{"s":14,"t":0.43,"i":-0.005},{"s":14,"t":0.44,"i":-0.015},{"s":14,"t":0.45,"i":-0.006},{"s":14,"t":0.46,"i":-0.011},{"s":14,"t":0.47,"i":-0.007},{"s":14,"t":0.48,"i":-0.014},{"s":14,"t":0.49,"i":-0.009},{"s":14,"t":0.5,"i":-0.005},
{"s":14,"t":0.51,"i":-0.015},{"s":14,"t":0.52,"i":-0.012},{"s":14,"t":0.53,"i":-0.005},{"s":14,"t":0.54,"i":-0.013},{"s":14,"t":0.55,"i":-0.008},{"s":14,"t":0.56,"i":-0.014},{"s":14,"t":0.57,"i":-0.006},{"s":14,"t":0.58,"i":-0.013},{"s":14,"t":0.59,"i":-0.006},
{"s":14,"t":0.599,"i":-0.01},{"s":14,"t":0.601,"i":-0.001},
{"s":14,"t":0.61,"i":-0.001},{"s":14,"t":0.62,"i":0.003},{"s":14,"t":0.63,"i":-0.004},{"s":14,"t":0.64,"i":0.002},{"s":14,"t":0.65,"i":0.004},{"s":14,"t":0.66,"i":-0.002},{"s":14,"t":0.67,"i":0},{"s":14,"t":0.68,"i":-0.003},{"s":14,"t":0.69,"i":0.002},{"s":14,"t":0.7,"i":0.003},

{"s":15,"t":0,"i":0.004},{"s":15,"t":0.01,"i":-0.001},{"s":15,"t":0.02,"i":-0.003},{"s":15,"t":0.03,"i":0.002},{"s":15,"t":0.04,"i":0},{"s":15,"t":0.05,"i":-0.004},{"s":15,"t":0.06,"i":0.003},{"s":15,"t":0.07,"i":0.001},{"s":15,"t":0.08,"i":-0.002},{"s":15,"t":0.09,"i":0.005},{"s":15,"t":0.099,"i":-0.001},
{"s":15,"t":0.1,"i":-0.004},
{"s":15,"t":0.11,"i":-0.006},{"s":15,"t":0.12,"i":0},{"s":15,"t":0.13,"i":0.004},{"s":15,"t":0.14,"i":-0.004},{"s":15,"t":0.15,"i":-0.006},{"s":15,"t":0.16,"i":0.001},{"s":15,"t":0.17,"i":0.003},{"s":15,"t":0.18,"i":-0.002},{"s":15,"t":0.19,"i":-0.006},{"s":15,"t":0.2,"i":0.004},
{"s":15,"t":0.21,"i":-0.003},{"s":15,"t":0.22,"i":0.002},{"s":15,"t":0.23,"i":-0.005},{"s":15,"t":0.24,"i":0.004},{"s":15,"t":0.25,"i":-0.001},{"s":15,"t":0.26,"i":-0.006},{"s":15,"t":0.27,"i":0.001},{"s":15,"t":0.28,"i":-0.004},{"s":15,"t":0.29,"i":0.004},{"s":15,"t":0.3,"i":-0.006},
{"s":15,"t":0.31,"i":0.003},{"s":15,"t":0.32,"i":-0.002},{"s":15,"t":0.33,"i":0.002},{"s":15,"t":0.34,"i":-0.005},{"s":15,"t":0.35,"i":0},{"s":15,"t":0.36,"i":0.004},{"s":15,"t":0.37,"i":-0.006},{"s":15,"t":0.38,"i":-0.003},{"s":15,"t":0.39,"i":0.004},{"s":15,"t":0.4,"i":-0.004},
{"s":15,"t":0.41,"i":0.001},{"s":15,"t":0.42,"i":-0.005},{"s":15,"t":0.43,"i":0.003},{"s":15,"t":0.44,"i":-0.004},{"s":15,"t":0.45,"i":0.003},{"s":15,"t":0.46,"i":-0.006},{"s":15,"t":0.47,"i":0.001},{"s":15,"t":0.48,"i":0.004},{"s":15,"t":0.49,"i":-0.005},{"s":15,"t":0.5,"i":-0.002},
{"s":15,"t":0.51,"i":0.004},{"s":15,"t":0.52,"i":-0.006},{"s":15,"t":0.53,"i":0},{"s":15,"t":0.54,"i":0.002},{"s":15,"t":0.55,"i":-0.006},{"s":15,"t":0.56,"i":0.003},{"s":15,"t":0.57,"i":-0.003},{"s":15,"t":0.58,"i":-0.006},{"s":15,"t":0.59,"i":0.004},
{"s":15,"t":0.599,"i":-0.001},{"s":15,"t":0.601,"i":-0.003},
{"s":15,"t":0.61,"i":-0.003},{"s":15,"t":0.62,"i":0.002},{"s":15,"t":0.63,"i":0.004},{"s":15,"t":0.64,"i":-0.001},{"s":15,"t":0.65,"i":-0.004},{"s":15,"t":0.66,"i":0.001},{"s":15,"t":0.67,"i":0.003},{"s":15,"t":0.68,"i":-0.002},{"s":15,"t":0.69,"i":0.004},{"s":15,"t":0.7,"i":-0.001},

{"s":16,"t":0,"i":-0.002},{"s":16,"t":0.01,"i":0.003},{"s":16,"t":0.02,"i":0.001},{"s":16,"t":0.03,"i":-0.004},{"s":16,"t":0.04,"i":0.002},{"s":16,"t":0.05,"i":0.005},{"s":16,"t":0.06,"i":-0.003},{"s":16,"t":0.07,"i":0},{"s":16,"t":0.08,"i":-0.001},{"s":16,"t":0.09,"i":-0.003},{"s":16,"t":0.099,"i":0.004},
{"s":16,"t":0.1,"i":0.012},
{"s":16,"t":0.11,"i":0.009},{"s":16,"t":0.12,"i":0.014},{"s":16,"t":0.13,"i":0.007},{"s":16,"t":0.14,"i":0.016},{"s":16,"t":0.15,"i":0.011},{"s":16,"t":0.16,"i":0.006},{"s":16,"t":0.17,"i":0.013},{"s":16,"t":0.18,"i":0.008},{"s":16,"t":0.19,"i":0.016},{"s":16,"t":0.2,"i":0.006},
{"s":16,"t":0.21,"i":0.015},{"s":16,"t":0.22,"i":0.01},{"s":16,"t":0.23,"i":0.014},{"s":16,"t":0.24,"i":0.007},{"s":16,"t":0.25,"i":0.012},{"s":16,"t":0.26,"i":0.016},{"s":16,"t":0.27,"i":0.006},{"s":16,"t":0.28,"i":0.009},{"s":16,"t":0.29,"i":0.016},{"s":16,"t":0.3,"i":0.008},
{"s":16,"t":0.31,"i":0.013},{"s":16,"t":0.32,"i":0.007},{"s":16,"t":0.33,"i":0.015},{"s":16,"t":0.34,"i":0.008},{"s":16,"t":0.35,"i":0.015},{"s":16,"t":0.36,"i":0.006},{"s":16,"t":0.37,"i":0.013},{"s":16,"t":0.38,"i":0.016},{"s":16,"t":0.39,"i":0.007},{"s":16,"t":0.4,"i":0.01},
{"s":16,"t":0.41,"i":0.016},{"s":16,"t":0.42,"i":0.006},{"s":16,"t":0.43,"i":0.012},{"s":16,"t":0.44,"i":0.014},{"s":16,"t":0.45,"i":0.006},{"s":16,"t":0.46,"i":0.015},{"s":16,"t":0.47,"i":0.009},{"s":16,"t":0.48,"i":0.006},{"s":16,"t":0.49,"i":0.016},{"s":16,"t":0.5,"i":0.011},
{"s":16,"t":0.51,"i":0.007},{"s":16,"t":0.52,"i":0.016},{"s":16,"t":0.53,"i":0.008},{"s":16,"t":0.54,"i":0.013},{"s":16,"t":0.55,"i":0.006},{"s":16,"t":0.56,"i":0.014},{"s":16,"t":0.57,"i":0.016},{"s":16,"t":0.58,"i":0.007},{"s":16,"t":0.59,"i":0.009},
{"s":16,"t":0.599,"i":0.011},{"s":16,"t":0.601,"i":-0.02},{"s":16,"t":0.604,"i":-0.008},
{"s":16,"t":0.61,"i":0.002},{"s":16,"t":0.62,"i":-0.001},{"s":16,"t":0.63,"i":-0.003},{"s":16,"t":0.64,"i":0.004},{"s":16,"t":0.65,"i":0},{"s":16,"t":0.66,"i":-0.002},{"s":16,"t":0.67,"i":0.003},{"s":16,"t":0.68,"i":-0.004},{"s":16,"t":0.69,"i":0.001},{"s":16,"t":0.7,"i":0.002},

{"s":12,"t":0,"i":0.001},{"s":12,"t":0.01,"i":0.003},{"s":12,"t":0.02,"i":-0.002},{"s":12,"t":0.03,"i":0.002},{"s":12,"t":0.04,"i":-0.003},{"s":12,"t":0.05,"i":0.005},{"s":12,"t":0.06,"i":0},{"s":12,"t":0.07,"i":-0.002},{"s":12,"t":0.08,"i":-0.001},{"s":12,"t":0.09,"i":0.003},{"s":12,"t":0.099,"i":0.002},
{"s":12,"t":0.1,"i":0.006},{"s":12,"t":0.105,"i":0.003},{"s":12,"t":0.11,"i":0.011},{"s":12,"t":0.115,"i":0.007},{"s":12,"t":0.12,"i":0.015},{"s":12,"t":0.125,"i":0.012},{"s":12,"t":0.13,"i":0.019},{"s":12,"t":0.135,"i":0.022},{"s":12,"t":0.14,"i":0.029},{"s":12,"t":0.145,"i":0.025},
{"s":12,"t":0.15,"i":0.033},{"s":12,"t":0.155,"i":0.024},{"s":12,"t":0.16,"i":0.027},{"s":12,"t":0.165,"i":0.019},{"s":12,"t":0.17,"i":0.031},{"s":12,"t":0.175,"i":0.029},{"s":12,"t":0.18,"i":0.038},{"s":12,"t":0.185,"i":0.035},{"s":12,"t":0.19,"i":0.044},{"s":12,"t":0.195,"i":0.027},
{"s":12,"t":0.2,"i":0.04},{"s":12,"t":0.205,"i":0.028},{"s":12,"t":0.21,"i":0.041},{"s":12,"t":0.215,"i":0.03},{"s":12,"t":0.22,"i":0.025},{"s":12,"t":0.225,"i":0.039},{"s":12,"t":0.23,"i":0.037},{"s":12,"t":0.235,"i":0.047},{"s":12,"t":0.24,"i":0.063},{"s":12,"t":0.245,"i":0.056},
{"s":12,"t":0.25,"i":0.048},{"s":12,"t":0.255,"i":0.058},{"s":12,"t":0.26,"i":0.046},{"s":12,"t":0.265,"i":0.065},{"s":12,"t":0.27,"i":0.082},{"s":12,"t":0.275,"i":0.06},{"s":12,"t":0.28,"i":0.078},{"s":12,"t":0.285,"i":0.06},{"s":12,"t":0.29,"i":0.053},{"s":12,"t":0.295,"i":0.063},
{"s":12,"t":0.3,"i":0.07},{"s":12,"t":0.305,"i":0.058},{"s":12,"t":0.31,"i":0.051},{"s":12,"t":0.315,"i":0.062},{"s":12,"t":0.32,"i":0.057},{"s":12,"t":0.325,"i":0.065},{"s":12,"t":0.33,"i":0.059},{"s":12,"t":0.335,"i":0.063},{"s":12,"t":0.34,"i":0.055},{"s":12,"t":0.345,"i":0.07},
{"s":12,"t":0.35,"i":0.057},{"s":12,"t":0.355,"i":0.062},{"s":12,"t":0.36,"i":0.055},{"s":12,"t":0.365,"i":0.074},{"s":12,"t":0.37,"i":0.079},{"s":12,"t":0.375,"i":0.073},{"s":12,"t":0.38,"i":0.08},{"s":12,"t":0.385,"i":0.072},{"s":12,"t":0.39,"i":0.066},{"s":12,"t":0.395,"i":0.085},
{"s":12,"t":0.4,"i":0.062},{"s":12,"t":0.405,"i":0.068},{"s":12,"t":0.41,"i":0.055},{"s":12,"t":0.415,"i":0.064},{"s":12,"t":0.42,"i":0.075},{"s":12,"t":0.425,"i":0.068},{"s":12,"t":0.43,"i":0.077},{"s":12,"t":0.435,"i":0.07},{"s":12,"t":0.44,"i":0.055},{"s":12,"t":0.445,"i":0.062},
{"s":12,"t":0.45,"i":0.076},{"s":12,"t":0.455,"i":0.07},{"s":12,"t":0.46,"i":0.078},{"s":12,"t":0.465,"i":0.06},{"s":12,"t":0.47,"i":0.054},{"s":12,"t":0.475,"i":0.064},{"s":12,"t":0.48,"i":0.05},{"s":12,"t":0.485,"i":0.061},{"s":12,"t":0.49,"i":0.052},{"s":12,"t":0.495,"i":0.07},
{"s":12,"t":0.5,"i":0.077},{"s":12,"t":0.505,"i":0.068},{"s":12,"t":0.51,"i":0.076},{"s":12,"t":0.515,"i":0.071},{"s":12,"t":0.52,"i":0.064},{"s":12,"t":0.525,"i":0.057},{"s":12,"t":0.53,"i":0.066},{"s":12,"t":0.535,"i":0.055},{"s":12,"t":0.54,"i":0.078},{"s":12,"t":0.545,"i":0.073},
{"s":12,"t":0.55,"i":0.079},{"s":12,"t":0.555,"i":0.07},{"s":12,"t":0.56,"i":0.066},{"s":12,"t":0.565,"i":0.071},{"s":12,"t":0.57,"i":0.064},{"s":12,"t":0.575,"i":0.074},{"s":12,"t":0.58,"i":0.086},{"s":12,"t":0.585,"i":0.072},{"s":12,"t":0.59,"i":0.062},{"s":12,"t":0.595,"i":0.06},
{"s":12,"t":0.599,"i":0.066},{"s":12,"t":0.6,"i":-0.063},{"s":12,"t":0.602,"i":-0.045},{"s":12,"t":0.604,"i":-0.03},{"s":12,"t":0.607,"i":-0.018},{"s":12,"t":0.61,"i":-0.008},{"s":12,"t":0.615,"i":-0.002},
{"s":12,"t":0.62,"i":0.002},{"s":12,"t":0.63,"i":-0.003},{"s":12,"t":0.64,"i":0.001},{"s":12,"t":0.65,"i":0.004},{"s":12,"t":0.66,"i":-0.002},{"s":12,"t":0.67,"i":0.001},{"s":12,"t":0.68,"i":-0.003},{"s":12,"t":0.69,"i":0},{"s":12,"t":0.7,"i":0.002}
]},
"mark": {"type": "line", "color": "black", "strokeWidth": 1.5},
"encoding": {
  "x": {"field": "t", "type": "quantitative", "scale": {"domain": [0, 0.7], "nice": false, "zero": false},
        "axis": {"values": [0.1, 0.6], "format": ".1f", "title": "t [s]", "tickSize": -6, "labelPadding": 19, "titleY": 62, "titleBaseline": "alphabetic"}},
  "y": {"field": "i", "type": "quantitative", "scale": {"domain": [-0.0928, 0.1026], "nice": false, "zero": false},
        "axis": {"values": [-0.08, -0.04, 0, 0.04, 0.08], "format": ".2~f", "title": "I [nA]", "tickSize": -6, "labelPadding": 23, "titleX": -78, "titleY": 230, "titleBaseline": "alphabetic"}},
  "detail": {"field": "s", "type": "nominal"}
}
},
{
"data": {"values": [{"label": "25 °C\u00a0 Activation"}]},
"mark": {"type": "text", "align": "right", "baseline": "alphabetic", "fontSize": 19, "font": "DejaVu Sans", "color": "black"},
"encoding": {
  "x": {"datum": 0.696, "type": "quantitative", "scale": {"domain": [0, 0.7], "nice": false, "zero": false}},
  "y": {"datum": 0.101, "type": "quantitative", "scale": {"domain": [-0.0928, 0.1026], "nice": false, "zero": false},
        "axis": {"orient": "right", "title": "BBP Channelpedia ID 30907 rep 1", "labels": false, "ticks": false, "domain": false, "grid": false, "titleAngle": 270, "titleFontSize": 14, "titleColor": "black", "titleX": 10, "titleY": 234.5, "titleBaseline": "middle", "titleAlign": "center"}},
  "text": {"field": "label"}
}
}
],
"resolve": {"axis": {"y": "independent"}}
}
